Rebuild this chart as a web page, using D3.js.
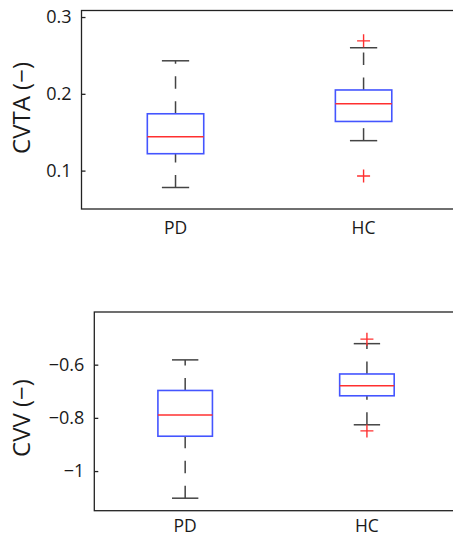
<!DOCTYPE html>
<html>
<head>
<meta charset="utf-8">
<script src="https://cdn.jsdelivr.net/npm/d3@7"></script>
<style>
  html, body { margin: 0; padding: 0; background: #fff; }
  svg { display: block; }
  text { font-family: "Open Sans", "DejaVu Sans", sans-serif; fill: #1a1a1a; }
</style>
</head>
<body>
<svg id="chart" width="453" height="537"></svg>
<script>
// ---- data ----
const categories = ["PD", "HC"];

// CVTA (top panel): [lowerWhisker, q1, median, q3, upperWhisker]
const cvtaPD = [0.078, 0.122, 0.144, 0.174, 0.243];
const cvtaHC = [0.139, 0.164, 0.187, 0.205, 0.260];
const cvtaOutliersPD = [];
const cvtaOutliersHC = [0.269, 0.093];
const cvtaTicks = [0.1, 0.2, 0.3];
const cvtaTickLabels = ["0.1", "0.2", "0.3"];

// CVV (bottom panel)
const cvvPD = [-1.102, -0.869, -0.789, -0.697, -0.582];
const cvvHC = [-0.826, -0.717, -0.679, -0.635, -0.521];
const cvvOutliersPD = [];
const cvvOutliersHC = [-0.504, -0.849];
const cvvTicks = [-1, -0.8, -0.6];
const cvvTickLabels = ["\u22121", "\u22120.8", "\u22120.6"];

const svg = d3.select("#chart");

function panel(cfg) {
  const g = svg.append("g");
  const x = d3.scaleLinear().domain([0.5, 2.5]).range([cfg.left, cfg.right]);
  const y = d3.scaleLinear().domain(cfg.yDomain).range([cfg.bottom, cfg.top]);
  const boxW = 0.3, capW = 0.145;

  // axes frame
  g.append("rect")
    .attr("x", cfg.left).attr("y", cfg.top)
    .attr("width", cfg.right - cfg.left).attr("height", cfg.bottom - cfg.top)
    .attr("fill", "none").attr("stroke", "#222").attr("stroke-width", 1.3);

  // y axis (ticks inside)
  const yAxis = d3.axisRight(y).tickValues(cfg.ticks).tickSize(4)
    .tickFormat((d, i) => "");
  const ag = g.append("g").attr("transform", `translate(${cfg.left},0)`).call(yAxis);
  ag.select(".domain").remove();
  ag.selectAll(".tick line").attr("stroke", "#222").attr("stroke-width", 1.3);
  ag.selectAll(".tick text").remove();
  g.selectAll(".ytl").data(cfg.ticks).enter().append("text")
    .attr("class", "ytl")
    .attr("x", cfg.left - 10).attr("y", d => y(d))
    .attr("dy", "0.35em").attr("text-anchor", "end")
    .attr("font-size", 18)
    .text((d, i) => cfg.tickLabels[i]);

  // x category labels
  g.selectAll(".xtl").data(categories).enter().append("text")
    .attr("class", "xtl")
    .attr("x", (d, i) => x(i + 1)).attr("y", cfg.bottom + cfg.xLabelOffset)
    .attr("text-anchor", "middle").attr("font-size", 17.5)
    .text(d => d);

  // y label
  g.append("text")
    .attr("transform", `translate(30,${cfg.labelY}) rotate(-90)`)
    .attr("text-anchor", "middle").attr("font-size", 24)
    .text(cfg.label);

  cfg.stats.forEach((s, i) => {
    const c = i + 1;
    const [lo, q1, med, q3, hi] = s;
    // whiskers (dashed, drawn from lower value upward)
    g.append("line").attr("x1", x(c)).attr("x2", x(c))
      .attr("y1", y(lo)).attr("y2", y(q1))
      .attr("stroke", "#444").attr("stroke-width", 1.5).attr("stroke-dasharray", "12.5,12.5");
    g.append("line").attr("x1", x(c)).attr("x2", x(c))
      .attr("y1", y(q3)).attr("y2", y(hi))
      .attr("stroke", "#444").attr("stroke-width", 1.5).attr("stroke-dasharray", "12.5,12.5");
    // caps
    [lo, hi].forEach(v => {
      g.append("line").attr("x1", x(c - capW / 2)).attr("x2", x(c + capW / 2))
        .attr("y1", y(v)).attr("y2", y(v))
        .attr("stroke", "#444").attr("stroke-width", 1.5);
    });
    // box
    g.append("rect")
      .attr("x", x(c - boxW / 2)).attr("y", y(q3))
      .attr("width", x(c + boxW / 2) - x(c - boxW / 2)).attr("height", y(q1) - y(q3))
      .attr("fill", "none").attr("stroke", "#4455ff").attr("stroke-width", 1.6);
    // median
    g.append("line").attr("x1", x(c - boxW / 2)).attr("x2", x(c + boxW / 2))
      .attr("y1", y(med)).attr("y2", y(med))
      .attr("stroke", "#ff3030").attr("stroke-width", 1.4);
    // outliers
    cfg.outliers[i].forEach(v => {
      const px = x(c), py = y(v), h = 6.5;
      g.append("path")
        .attr("d", `M${px - h},${py}H${px + h}M${px},${py - h}V${py + h}`)
        .attr("stroke", "#ff3030").attr("stroke-width", 1.4).attr("fill", "none");
    });
  });
}

panel({
  left: 81.5, right: 457.6, top: 10.5, bottom: 209,
  yDomain: [0.05, 0.3085],
  ticks: cvtaTicks, tickLabels: cvtaTickLabels,
  label: "CVTA (\u2212)", labelY: 108,
  xLabelOffset: 24.5,
  stats: [cvtaPD, cvtaHC],
  outliers: [cvtaOutliersPD, cvtaOutliersHC]
});

panel({
  left: 94.3, right: 457.8, top: 312, bottom: 510.7,
  yDomain: [-1.149, -0.402],
  ticks: cvvTicks, tickLabels: cvvTickLabels,
  label: "CVV (\u2212)", labelY: 418,
  xLabelOffset: 21.5,
  stats: [cvvPD, cvvHC],
  outliers: [cvvOutliersPD, cvvOutliersHC]
});
</script>
</body>
</html>
